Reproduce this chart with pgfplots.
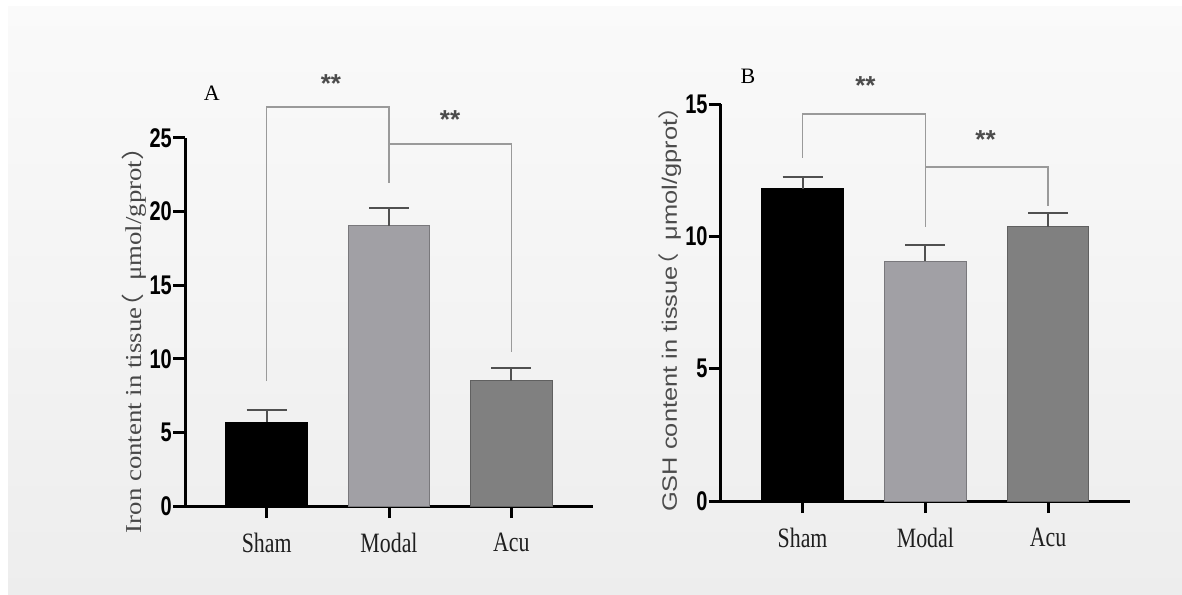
\documentclass[border=0pt]{standalone}
\usepackage{fontspec}
\setmainfont{Liberation Serif}
\usepackage{graphicx}
\usepackage{pgfplots}
\pgfplotsset{compat=1.18}
\newfontfamily\ticksansbf[FakeStretch=0.74]{Liberation Sans Bold}
\newfontfamily\catserif[FakeStretch=0.78]{Liberation Serif}
\newfontfamily\labsans{Liberation Sans}
\newfontfamily\cjk{Noto Sans CJK SC}
\definecolor{modalc}{HTML}{A1A0A5}
\definecolor{acuc}{HTML}{808080}
\definecolor{brk}{HTML}{9A9A9A}
\definecolor{errc}{HTML}{505050}
\tikzset{stars/.style={font=\labsans\bfseries\fontsize{26}{26}\selectfont, color=black!70, yshift=-6pt}}
\pgfplotsset{
  mystyle/.style={
    scale only axis, clip=false, enlargelimits=false,
    xmin=-0.667, xmax=2.667, ymin=0,
    axis x line*=bottom, axis y line*=left,
    axis line style={line width=3pt, black, -},
    xtick={0,1,2}, xticklabels={Sham,Modal,Acu},
    tick align=outside, major tick length=12pt,
    tick style={line width=3pt, black},
    /pgf/number format/assume math mode=true,
    yticklabel style={font=\ticksansbf\fontsize{27}{27}\selectfont, inner sep=1pt},
    xticklabel style={font=\catserif\fontsize{28}{28}\selectfont, color=black!88, inner sep=0pt, yshift=-15pt},
  },
  mybar/.style={ybar, bar width=81.5pt, bar shift=0pt, draw=#1!75!black, line width=1pt, fill=#1,
    error bars/.cd, y dir=plus, y explicit,
    error bar style={line width=2pt, errc},
    error mark options={rotate=90, mark size=20pt, line width=2pt, errc}},
}
\begin{document}
\begin{tikzpicture}
\fill[white] (0pt,0pt) rectangle (1182pt,594pt);
\shade[top color=white!98!black, bottom color=white!93!black] (8pt,0pt) rectangle (1182pt,587pt);

% ---------- Panel A ----------
\begin{axis}[mystyle, at={(185pt,88pt)}, anchor=south west, width=408pt, height=368pt,
  ymax=25, ytick={0,5,10,15,20,25}]
\addplot[mybar=black] coordinates {(0,5.69) +- (0,0.83)};
\addplot[mybar=modalc] coordinates {(1,19.04) +- (0,1.23)};
\addplot[mybar=acuc] coordinates {(2,8.51) +- (0,0.84)};
\draw[brk, line width=1.5pt] (axis cs:0,8.49) -- (axis cs:0,27.1) -- (axis cs:1,27.1) -- (axis cs:1,21.96);
\draw[brk, line width=1.5pt] (axis cs:1,24.59) -- (axis cs:2,24.59) -- (axis cs:2,10.48);
\node[stars] at (axis cs:0.526,29.08) {**};
\node[stars] at (axis cs:1.499,26.63) {**};
\end{axis}

% ---------- Panel B ----------
\begin{axis}[mystyle, at={(720.7pt,93pt)}, anchor=south west, width=409.3pt, height=396.7pt,
  ymax=15, ytick={0,5,10,15}]
\addplot[mybar=black] coordinates {(0,11.80) +- (0,0.44)};
\addplot[mybar=modalc] coordinates {(1,9.07) +- (0,0.60)};
\addplot[mybar=acuc] coordinates {(2,10.37) +- (0,0.51)};
\draw[brk, line width=1.5pt] (axis cs:0,12.98) -- (axis cs:0,14.63) -- (axis cs:1,14.63) -- (axis cs:1,10.37);
\draw[brk, line width=1.5pt] (axis cs:1,12.62) -- (axis cs:2,12.62) -- (axis cs:2,11.16);
\node[stars] at (axis cs:0.512,15.92) {**};
\node[stars] at (axis cs:1.49,13.91) {**};
\end{axis}

\node[font=\fontsize{22}{22}\selectfont] at (211.7pt,501pt) {A};
\node[font=\fontsize{22}{22}\selectfont] at (748pt,518pt) {B};
\node[rotate=90, font=\fontsize{26.8}{26.8}\selectfont, color=black!72] at (134pt,260.5pt)
  {\scalebox{1}[0.85]{Iron content in tissue\hspace{-0.5em}{\cjk （}\hspace{0.25em} μmol/gprot{\cjk ）}}};
\node[rotate=90, font=\labsans\fontsize{25.4}{25.4}\selectfont, color=black!70] at (670pt,291pt)
  {\scalebox{1}[0.82]{GSH content in tissue\hspace{-0.5em}{\cjk （}\hspace{0.25em} μmol/gprot{\cjk ）}}};
\end{tikzpicture}
\end{document}
